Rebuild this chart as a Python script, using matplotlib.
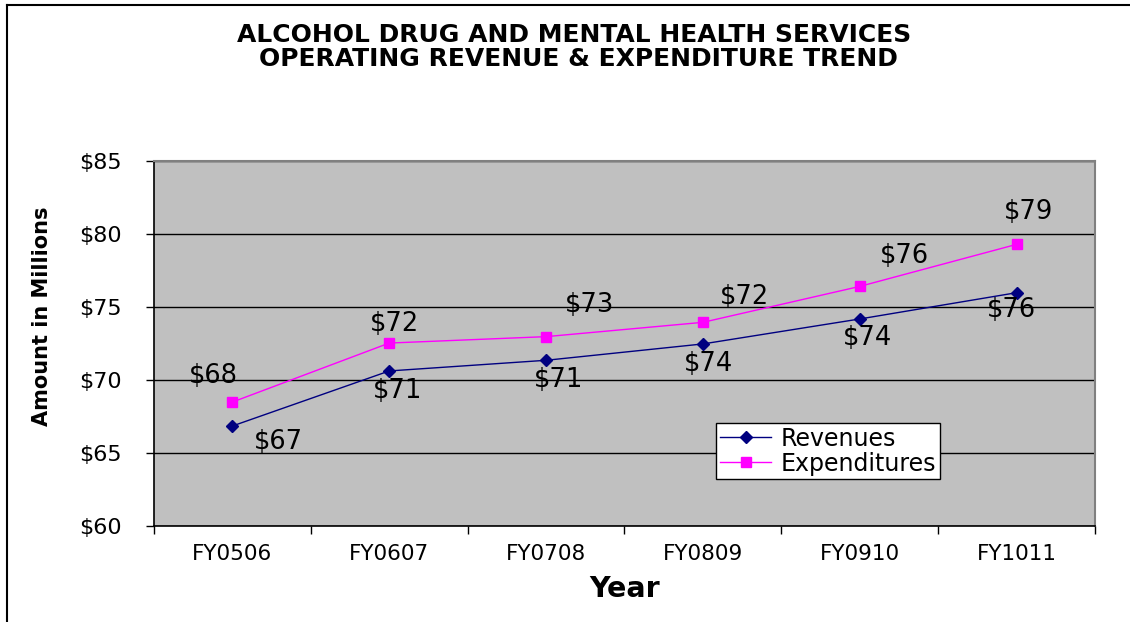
import matplotlib
matplotlib.use("Agg")
import matplotlib.pyplot as plt
from matplotlib.lines import Line2D

plt.rcParams['font.family'] = ['DejaVu Sans']

# ---- data ----
categories = ["FY0506", "FY0607", "FY0708", "FY0809", "FY0910", "FY1011"]
revenues = [66.85, 70.62, 71.35, 72.47, 74.18, 75.98]
expenditures = [68.49, 72.53, 72.97, 73.95, 76.41, 79.29]
revenue_labels = ["$67", "$71", "$71", "$74", "$74", "$76"]
expenditure_labels = ["$68", "$72", "$73", "$72", "$76", "$79"]
y_ticks = [60, 65, 70, 75, 80, 85]
y_tick_labels = ["$60", "$65", "$70", "$75", "$80", "$85"]
title_lines = ["ALCOHOL DRUG AND MENTAL HEALTH SERVICES",
               "OPERATING REVENUE & EXPENDITURE TREND"]
series_names = ["Revenues", "Expenditures"]

# label offsets in pixels (dx, dy) - placement only
rev_offsets = [(46, -16), (8, -20), (12, -20), (6, -20), (8, -19), (-5, -17)]
exp_offsets = [(-19, 26), (5, 19), (43, 32), (42, 25), (45, 30), (12, 32)]

W, H, DPI = 1130, 622, 100
fig = plt.figure(figsize=(W / DPI, H / DPI), dpi=DPI)
fig.patch.set_facecolor("white")

ax = fig.add_axes([154 / W, (H - 526) / H, 941 / W, 365 / H])
ax.set_facecolor("#C0C0C0")

x = list(range(len(categories)))
ax.plot(x, revenues, color="#000080", lw=1.0, marker="D", ms=6,
        label=series_names[0], zorder=4)
ax.plot(x, expenditures, color="#FF00FF", lw=1.0, marker="s", ms=6.5,
        label=series_names[1], zorder=4)

px2pt = 72 / DPI
for xi, yi, lab, (dx, dy) in zip(x, revenues, revenue_labels, rev_offsets):
    ax.annotate(lab, (xi, yi), xytext=(dx * px2pt, dy * px2pt),
                textcoords="offset points", ha="center", va="center",
                fontsize=18.5, color="black", zorder=5)
for xi, yi, lab, (dx, dy) in zip(x, expenditures, expenditure_labels, exp_offsets):
    ax.annotate(lab, (xi, yi), xytext=(dx * px2pt, dy * px2pt),
                textcoords="offset points", ha="center", va="center",
                fontsize=18.5, color="black", zorder=5)

ax.set_xlim(-0.5, len(categories) - 0.5)
ax.set_ylim(60, 85)
ax.set_yticks(y_ticks)
ax.set_yticklabels(y_tick_labels, fontsize=16)
ax.set_xticks(x)
ax.set_xticklabels(categories, fontsize=15.5)
ax.set_xticks([i - 0.5 for i in range(len(categories) + 1)], minor=True)
ax.tick_params(axis="x", which="major", length=0, pad=13)
ax.tick_params(axis="x", which="minor", length=6, direction="out", width=1)
ax.tick_params(axis="y", which="major", length=6, direction="out", width=1, pad=17)

ax.grid(axis="y", color="black", lw=1.0, zorder=1)
ax.set_axisbelow(True)
for s in ["top", "right"]:
    ax.spines[s].set_color("#808080")
    ax.spines[s].set_linewidth(1.5)
for s in ["left", "bottom"]:
    ax.spines[s].set_color("black")
    ax.spines[s].set_linewidth(1.2)

leg = ax.legend(loc="upper left", bbox_to_anchor=(716 / W, 1 - 423 / H),
                bbox_transform=fig.transFigure, fontsize=17, frameon=True,
                fancybox=False, framealpha=1, edgecolor="black",
                handlelength=2.2, handletextpad=0.4, borderpad=0.15,
                labelspacing=0.05, borderaxespad=0)
leg.get_frame().set_linewidth(1.0)

fig.text(574 / W, 1 - 35 / H, title_lines[0], ha="center", va="center",
         fontsize=18, fontweight="bold")
fig.text(578 / W, 1 - 59 / H, title_lines[1], ha="center", va="center",
         fontsize=18, fontweight="bold")
fig.text(625 / W, 1 - 589 / H, "Year", ha="center", va="center",
         fontsize=20.5, fontweight="bold")
fig.text(42 / W, 1 - 316 / H, "Amount in Millions", ha="center", va="center",
         rotation=90, fontsize=15, fontweight="bold")

# outer border (top and left edges)
fig.add_artist(Line2D([7 / W, 1], [1 - 5 / H, 1 - 5 / H], transform=fig.transFigure,
                      color="black", lw=1.5))
fig.add_artist(Line2D([7 / W, 7 / W], [0, 1 - 5 / H], transform=fig.transFigure,
                      color="black", lw=1.5))

fig.savefig("out.png", dpi=DPI)
